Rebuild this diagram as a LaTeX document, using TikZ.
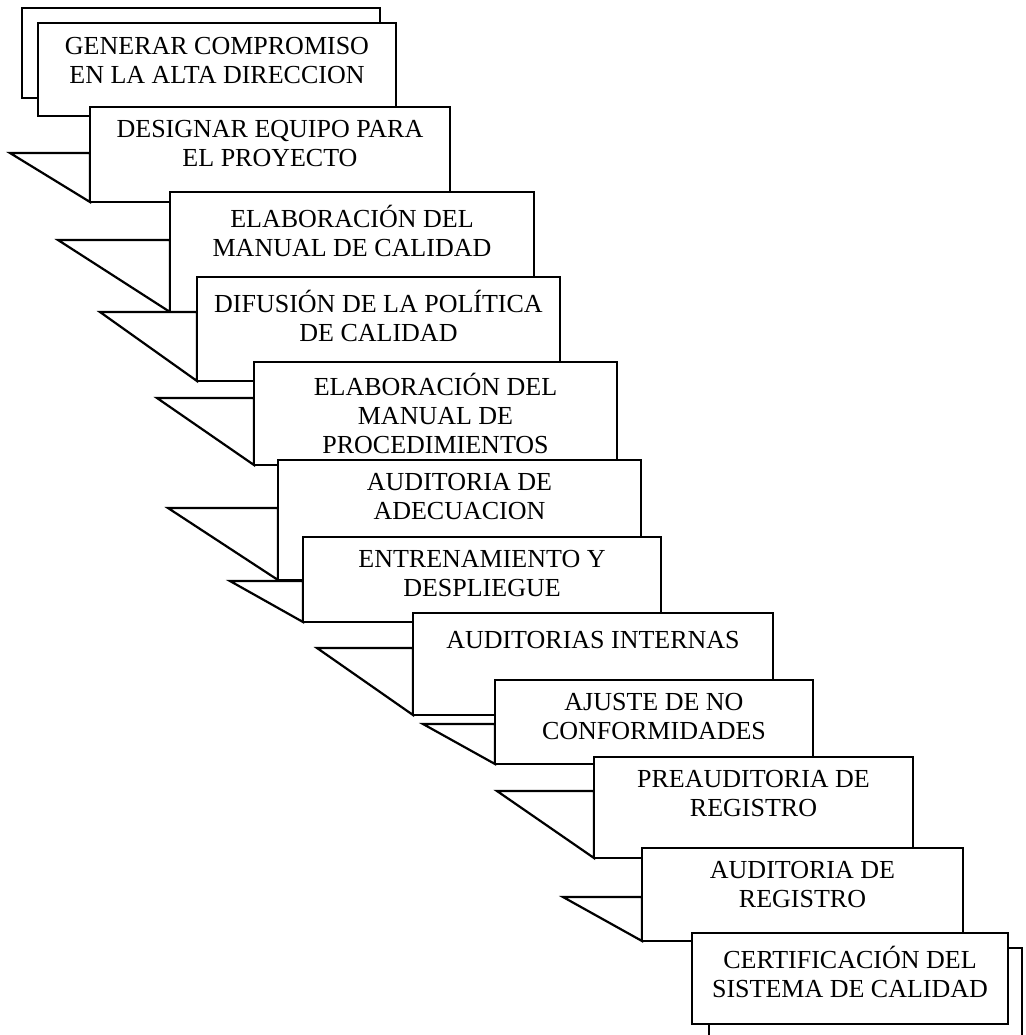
\documentclass[tikz,border=0pt]{standalone}
\usepackage{fontspec}
\setmainfont{Liberation Serif}
\usetikzlibrary{positioning}

\begin{document}
\begin{tikzpicture}[x=0.5pt, y=-0.5pt, line width=1.1pt,
  panel/.style = {draw, fill=white, anchor=north west, outer sep=0pt, inner sep=0pt},
  flap/.style = {draw, fill=white, line join=miter},
  words/.style = {align=center, inner sep=0pt, anchor=north,
    font=\fontsize{13}{14.5}\selectfont,
    execute at begin node={\rule{0pt}{11.5pt}}}]
\useasboundingbox (0,0) rectangle (1026,1035);
\clip (0,0) rectangle (1026,1035);
\node[panel, minimum width=179pt, minimum height=45pt] (b0) at (22,8) {};
\node[panel, minimum width=179pt, minimum height=46.5pt] (b1) at (38,23) {};
\node[words, below=6.5pt of b1.north] (t1) {GENERAR COMPROMISO\\EN LA ALTA DIRECCION};
\coordinate (w2) at (10,153);
\draw[flap] (w2) -- (90,153) -- (90,202) -- cycle;
\node[panel, minimum width=180pt, minimum height=47.5pt] (b2) at (90,107) {};
\node[words, below=6pt of b2.north] (t2) {DESIGNAR EQUIPO PARA\\EL PROYECTO};
\coordinate (w3) at (58,240);
\draw[flap] (w3) -- (170,240) -- (170,312) -- cycle;
\node[panel, minimum width=182pt, minimum height=60pt] (b3) at (170,192) {};
\node[words, below=6pt of b3.north] (t3) {ELABORACIÓN DEL\\MANUAL DE CALIDAD};
\coordinate (w4) at (100,312);
\draw[flap] (w4) -- (197,312) -- (197,381) -- cycle;
\node[panel, minimum width=181.5pt, minimum height=52pt] (b4) at (197,277) {};
\node[words, below=6pt of b4.north] (t4) {DIFUSIÓN DE LA POLÍTICA\\DE CALIDAD};
\coordinate (w5) at (157,398);
\draw[flap] (w5) -- (254,398) -- (254,465) -- cycle;
\node[panel, minimum width=181.5pt, minimum height=51.5pt] (b5) at (254,362) {};
\node[words, below=5pt of b5.north] (t5) {ELABORACIÓN DEL\\MANUAL DE\\PROCEDIMIENTOS};
\coordinate (w6) at (168,508);
\draw[flap] (w6) -- (278,508) -- (278,580) -- cycle;
\node[panel, minimum width=181.5pt, minimum height=60pt] (b6) at (278,460) {};
\node[words, below=6pt of b6.north] (t6) {AUDITORIA DE\\ADECUACION};
\coordinate (w7) at (230,581);
\draw[flap] (w7) -- (303,581) -- (303,622) -- cycle;
\node[panel, minimum width=179pt, minimum height=42.5pt] (b7) at (303,537) {};
\node[words, below=6pt of b7.north] (t7) {ENTRENAMIENTO Y\\DESPLIEGUE};
\coordinate (w8) at (317,648);
\draw[flap] (w8) -- (413,648) -- (413,715) -- cycle;
\node[panel, minimum width=180pt, minimum height=51pt] (b8) at (413,613) {};
\node[words, below=5.5pt of b8.north] (t8) {AUDITORIAS INTERNAS};
\coordinate (w9) at (423,724);
\draw[flap] (w9) -- (495,724) -- (495,764) -- cycle;
\node[panel, minimum width=159pt, minimum height=42pt] (b9) at (495,680) {};
\node[words, below=6pt of b9.north] (t9) {AJUSTE DE NO\\CONFORMIDADES};
\coordinate (w10) at (497,791);
\draw[flap] (w10) -- (594,791) -- (594,858) -- cycle;
\node[panel, minimum width=159.5pt, minimum height=50.5pt] (b10) at (594,757) {};
\node[words, below=6pt of b10.north] (t10) {PREAUDITORIA DE\\REGISTRO};
\coordinate (w11) at (563,897);
\draw[flap] (w11) -- (642,897) -- (642,941) -- cycle;
\node[panel, minimum width=160.5pt, minimum height=46.5pt] (b11) at (642,848) {};
\node[words, below=6pt of b11.north] (t11) {AUDITORIA DE\\REGISTRO};
\node[panel, minimum width=156.5pt, minimum height=56pt] (b13) at (709,948) {};
\node[panel, minimum width=158pt, minimum height=45.5pt] (b12) at (692,933) {};
\node[words, below=6pt of b12.north] (t12) {CERTIFICACIÓN DEL\\SISTEMA DE CALIDAD};
\end{tikzpicture}
\end{document}
